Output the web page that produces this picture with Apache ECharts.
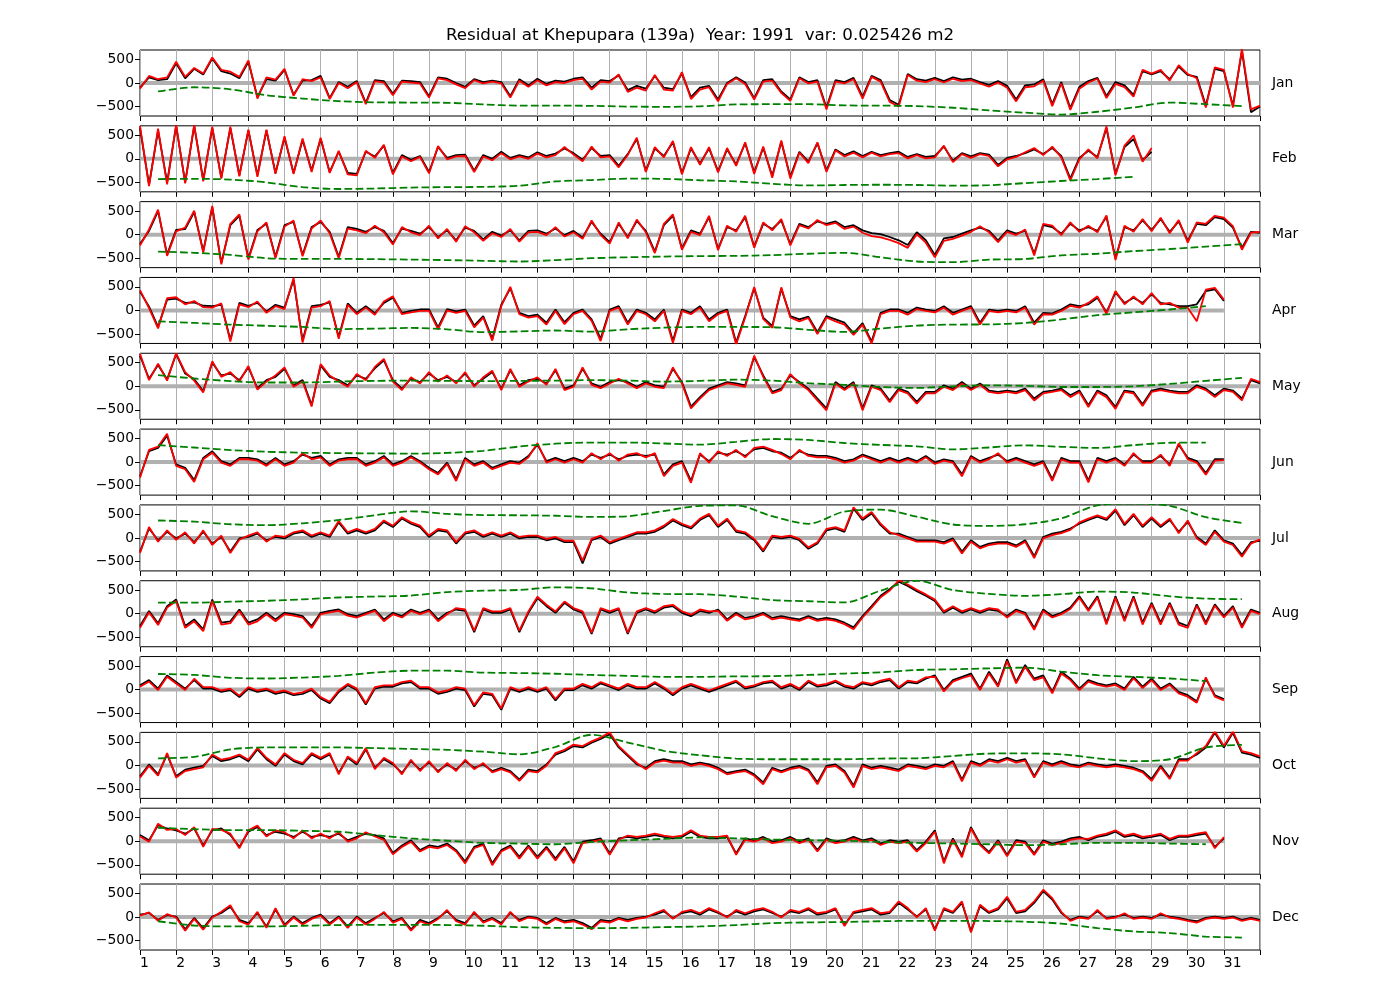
<!DOCTYPE html>
<html><head><meta charset="utf-8">
<script src="https://cdn.jsdelivr.net/npm/echarts@6/dist/echarts.min.js"></script>
<style>html,body{margin:0;padding:0;background:#fff}#c{width:1400px;height:1000px}</style>
</head><body><div id="c"></div>
<script>
const TITLE = 'Residual at Khepupara (139a)  Year: 1991  var: 0.025426 m2';
const MONTHS = ['Jan','Feb','Mar','Apr','May','Jun','Jul','Aug','Sep','Oct','Nov','Dec'];
const DAYS_IN_MONTH = [31,28,31,30,31,30,31,31,30,31,30,31];
const Y_TICKS = [-500, 0, 500];

// black = observed residual, red = model residual (6-hourly), green = daily smoothed (noon)
const JAN_K = [-100,120,60,80, 420,100,300,180, 520,250,200,100, 450,-300,80,50, 280,-250,50,60, 150,-320,20,-80, 40,-420,60,40, -230,50,40,20, -280,120,90,0, -80,80,20,50, 20,-280,80,-50, 90,-20,50,30, 90,120,-100,60, 40,160,-150,-60, -120,150,-100,-130, 200,-300,-100,-60, -350,0,120,10, -320,60,80,-180, -350,120,20,60, -520,60,20,110, -290,150,60,-360, -460,190,80,50, 110,40,120,70, 90,20,-40,40, -60,-350,-50,-30, 80,-450,20,-530, -80,40,110,-280, 20,-50,-250,250, 180,250,80,350, 170,130,-480,300, 250,-480,680,-620, -500];
const JAN_R = [-120,150,80,120, 450,130,320,200, 540,280,240,130, 480,-330,120,70, 300,-270,80,40, 120,-340,0,-110, 20,-450,40,10, -260,30,10,-10, -310,100,60,-30, -110,60,-10,30, -10,-310,50,-80, 60,-50,20,0, 60,90,-140,30, 10,180,-190,-100, -160,170,-140,-160, 230,-340,-140,-90, -390,-20,100,-20, -350,30,50,-210, -380,100,-10,30, -560,30,-10,80, -330,130,30,-400, -500,170,50,20, 80,10,90,40, 60,-10,-80,10, -100,-390,-90,-70, 50,-490,-10,-570, -120,10,90,-320, -20,-90,-290,280, 200,280,50,380, 190,100,-520,330, 280,-520,720,-560, -480];
const JAN_G = [-180,-90,-135,-260,-330,-385,-410,-415,-420,-455,-480,-480,-485,-500,-505,-495,-455,-450,-450,-475,-480,-490,-525,-580,-630,-670,-610,-520,-415,-450,-490];

const FEB_K = [650,-550,600,-500, 700,-500,700,-450, 650,-400,650,-350, 600,-350,600,-300, 450,-300,400,-250, 420,-280,150,-300, -320,150,50,280, -300,80,-20,60, -280,250,20,80, 90,-250,80,0, 150,20,80,30, 140,60,110,220, 120,-20,230,60, 80,-150,100,420, -250,220,60,350, -300,220,-100,220, -260,200,-120,330, -280,230,-360,360, -380,150,-60,330, -250,200,80,160, 60,150,80,120, 150,40,100,40, 60,260,-40,120, 50,120,90,-130, 20,60,120,200, 100,230,60,-420, 20,170,40,650, -320,250,420,-30, 150];
const FEB_R = [700,-580,640,-540, 720,-520,720,-480, 680,-420,680,-370, 620,-380,620,-320, 480,-320,430,-280, 450,-300,170,-330, -350,170,20,300, -330,50,-50,40, -310,270,-10,50, 60,-280,50,-30, 120,-10,50,0, 110,30,80,250, 90,-50,260,30, 50,-180,80,450, -280,250,30,380, -330,250,-130,250, -290,230,-150,350, -320,260,-400,390, -420,130,-90,350, -280,180,50,130, 30,130,50,100, 120,10,80,10, 30,280,-70,100, 20,100,60,-160, -10,40,140,230, 80,260,30,-460, -10,200,10,690, -350,280,500,-60, 230];
const FEB_G = [-430,-425,-440,-500,-600,-640,-630,-610,-600,-595,-570,-480,-450,-420,-425,-455,-480,-530,-565,-555,-550,-555,-570,-560,-515,-470,-430,-380];

const MAR_K = [-200,80,500,-420, 100,120,480,-350, 580,-600,200,400, -500,100,230,-470, 200,270,-430,160, 270,60,-470,160, 120,60,160,80, -180,130,80,20, 160,-50,90,-120, 150,80,-100,60, -20,90,-120,80, 90,20,130,-10, 80,-60,270,20, -160,230,-50,290, 80,-360,200,400, -290,90,20,370, -300,160,90,370, -250,230,120,300, -200,230,160,280, 230,280,160,200, 90,30,10,-50, -120,-220,50,-120, -430,-80,-50,20, 90,150,80,-120, 90,20,80,-400, 200,160,20,230, 90,160,80,380, -500,160,90,300, 100,330,60,280, -130,230,200,370, 330,150,-280,60, 40];
const MAR_R = [-230,110,530,-450, 70,150,510,-380, 610,-630,230,430, -530,70,260,-500, 170,300,-460,130, 300,30,-500,130, 90,30,190,50, -210,160,50,-10, 190,-80,120,-150, 180,50,-130,30, -50,120,-150,50, 60,-10,160,-40, 50,-90,300,-10, -190,260,-80,320, 50,-390,230,430, -320,60,-10,400, -330,190,60,400, -280,260,90,330, -230,200,130,310, 200,250,120,170, 40,-30,-60,-110, -180,-280,10,-170, -480,-130,-90,-20, 60,180,50,-160, 60,-10,110,-440, 230,190,-10,260, 60,190,50,410, -540,190,60,330, 70,360,30,310, -170,260,230,400, 360,180,-320,40, 60];
const MAR_G = [-360,-385,-430,-500,-515,-515,-520,-530,-540,-555,-570,-540,-500,-480,-465,-455,-450,-435,-405,-385,-480,-570,-585,-530,-515,-440,-405,-350,-305,-255,-200];

const APR_K = [400,80,-350,230, 250,160,170,100, 90,120,-620,160, 100,160,-20,120, 60,650,-640,90, 120,170,-560,150, -50,90,-60,160, 270,-50,-10,20, 20,-360,30,-20, 20,-320,-120,-600, 120,470,-50,-120, -90,-260,20,-250, -50,20,-190,-600, 20,90,-260,20, -50,-190,20,-650, 20,-50,90,-190, -50,20,-680,-120, 470,-150,-330,460, -120,-190,-130,-460, -120,-190,-260,-480, -270,-660,-50,20, 20,-50,60,20, -10,90,-50,20, 90,-260,20,-10, 20,-10,90,-260, -50,-60,20,130, 90,130,270,-40, 380,160,270,160, 340,160,130,90, 90,130,410,450, 200];
const APR_R = [430,50,-380,260, 280,130,200,70, 60,150,-660,130, 70,190,-50,90, 30,690,-680,60, 90,200,-600,120, -80,60,-90,190, 300,-80,-40,-10, -10,-400,0,-50, -10,-360,-150,-640, 90,500,-80,-150, -120,-300,-10,-290, -80,-10,-220,-650, -10,60,-300,-10, -80,-230,-10,-690, -10,-80,60,-230, -80,-10,-720,-150, 500,-180,-370,490, -150,-230,-160,-500, -150,-230,-300,-520, -300,-700,-80,-10, -10,-90,30,-10, -40,60,-90,-10, 60,-300,-10,-40, -10,-40,60,-300, -80,-90,-10,100, 60,160,300,-70, 410,130,300,130, 370,130,160,60, 60,-230,440,480, 230];
const APR_G = [-230,-265,-300,-325,-350,-395,-385,-370,-400,-460,-445,-425,-450,-400,-365,-350,-350,-355,-410,-455,-385,-320,-300,-295,-265,-190,-100,-40,20,90];

const MAY_K = [650,160,450,150, 680,270,150,-100, 500,230,270,130, 400,-40,130,200, 370,20,130,-400, 440,200,130,20, 230,160,380,550, 130,-50,160,90, 270,130,200,90, 270,20,160,300, -50,340,20,130, 160,60,340,-50, 20,370,60,-10, 90,130,90,-10, 90,20,-10,370, 90,-430,-230,-50, 20,90,60,20, 620,230,-120,-50, 230,90,-50,-260, -470,90,-50,90, -470,20,-50,-300, -50,-120,-330,-120, -120,20,-50,90, -50,60,-90,-120, -90,-120,-50,-260, -120,-90,-50,-190, -90,-400,-90,-190, -440,-90,-120,-380, -90,-50,-90,-120, -120,20,-50,-190, -50,-90,-260,130, 60];
const MAY_R = [690,130,480,120, 700,300,120,-130, 530,200,300,100, 430,-70,100,230, 400,-10,100,-430, 470,230,100,-10, 260,130,410,580, 100,-80,190,60, 300,100,230,60, 300,-10,190,330, -80,370,-10,100, 190,30,370,-80, -10,400,30,-40, 60,160,60,-40, 60,-10,-40,400, 60,-470,-260,-80, -10,60,30,-10, 650,200,-150,-80, 260,60,-80,-300, -510,60,-80,60, -510,-10,-80,-340, -80,-150,-370,-150, -150,-10,-80,60, -80,30,-120,-150, -120,-150,-80,-300, -150,-120,-80,-230, -120,-440,-120,-230, -480,-120,-150,-420, -120,-80,-120,-150, -150,-10,-80,-230, -80,-120,-300,160, 90];
const MAY_G = [235,165,110,80,80,100,115,120,115,110,115,120,130,120,100,115,140,120,65,30,-15,-35,0,20,10,-15,-15,0,50,115,180];

const JUN_K = [-300,230,300,560, -50,-120,-380,90, 230,20,-50,90, 90,60,-50,90, -50,20,160,90, 130,-50,60,90, 90,-50,20,130, -50,20,130,20, -120,-230,-10,-360, 90,-50,20,-120, -50,20,-10,130, 370,20,90,20, 90,20,160,90, 160,60,130,160, 130,160,-260,-50, 20,-400,160,20, 200,160,230,130, 270,300,230,200, 90,230,160,130, 130,90,20,60, 160,90,20,90, 20,90,20,130, -10,60,20,-260, 130,20,90,160, 20,90,20,-50, 20,-360,90,20, 20,-390,90,20, 90,-50,160,20, 20,130,-50,370, 90,20,-230,60, 60];
const JUN_R = [-330,260,330,600, -80,-150,-420,60, 200,-10,-80,60, 60,30,-80,60, -80,-10,190,60, 100,-80,30,60, 60,-80,-10,100, -80,-10,100,-10, -150,-260,-40,-400, 60,-80,-10,-150, -80,-10,-40,100, 400,-10,60,-10, 60,-10,190,60, 190,30,160,190, 100,190,-300,-80, -10,-440,190,-10, 230,130,260,100, 300,330,260,170, 60,260,130,100, 100,60,-10,30, 130,60,-10,60, -10,60,-10,100, -40,30,-10,-300, 100,-10,60,190, -10,60,-10,-80, -10,-400,60,-10, -10,-430,60,-10, 60,-80,190,-10, -10,160,-80,400, 60,-10,-270,30, 40];
const JUN_G = [360,310,255,220,200,190,185,180,195,240,330,390,415,415,395,370,430,490,470,405,365,335,270,310,355,325,300,360,410,415];

const JUL_K = [-290,200,-50,130, -10,90,-90,130, -120,20,-290,-10, 20,90,-50,20, -10,90,130,20, 90,20,330,90, 160,90,160,340, 230,410,300,230, 20,160,130,-120, 90,130,20,90, 20,90,-10,20, 20,-50,-10,-90, -90,-540,-50,20, -120,-50,20,90, 90,130,230,370, 270,200,380,480, 230,380,130,90, -50,-290,20,-10, 20,-50,-230,-120, 160,200,130,620, 380,520,270,90, 90,20,-50,-50, -50,-90,-10,-290, -50,-190,-120,-90, -90,-160,-50,-390, 20,90,130,200, 300,380,450,380, 580,270,480,230, 410,230,380,130, 340,20,-120,160, -50,-120,-360,-90, -60];
const JUL_R = [-320,230,-80,160, -40,120,-120,160, -150,50,-320,-40, 50,120,-80,50, 20,120,160,50, 120,50,360,120, 190,120,190,370, 260,440,330,260, 50,190,160,-90, 120,160,50,120, 50,120,20,50, 50,-20,20,-60, -60,-480,-20,50, -90,-20,50,120, 120,160,260,400, 300,230,410,510, 260,410,160,120, -20,-260,50,20, 50,-20,-200,-90, 190,230,160,650, 410,550,300,120, 60,-10,-80,-80, -80,-120,-40,-330, -80,-220,-150,-120, -120,-190,-80,-430, -10,60,100,170, 330,410,480,410, 610,300,510,260, 440,260,410,100, 370,-10,-150,130, -80,-150,-400,-120, -30];
const JUL_G = [370,345,290,270,310,380,480,565,510,485,480,470,445,460,570,680,690,460,300,560,600,450,285,255,290,415,690,730,680,440,320];

const AUG_K = [-260,60,-200,160, 300,-260,-120,-330, 300,-190,-160,90, -190,-120,20,-120, 20,-10,-50,-260, 20,60,90,-10, -50,20,90,-120, 20,-50,90,20, 90,-120,20,90, 60,-390,90,20, 20,90,-390,20, 330,160,20,230, 90,20,-430,90, 20,90,-430,20, 90,20,130,160, 20,-50,60,20, 90,-120,20,-90, -50,20,-90,-50, -90,-120,-50,-120, -90,-120,-190,-290, -50,160,380,520, 680,590,480,380, 270,20,130,20, 90,20,90,60, -50,90,20,-300, 90,-50,20,130, 370,90,370,-190, 370,-120,370,-190, 230,-190,230,-190, -260,200,-190,200, -50,160,-260,90, 20];
const AUG_R = [-300,30,-240,130, 270,-300,-160,-370, 270,-230,-200,60, -230,-160,-10,-160, -10,-40,-80,-300, -10,30,60,-40, -80,-10,60,-160, -10,-80,60,-10, 60,-160,-10,120, 90,-360,120,50, 50,120,-360,50, 360,190,50,260, 120,50,-400,120, 50,120,-400,50, 120,50,160,190, 50,-20,90,50, 60,-150,-10,-120, -80,-10,-120,-80, -120,-150,-80,-150, -120,-150,-220,-330, -80,130,350,490, 710,620,510,410, 300,50,160,50, 120,50,120,90, -80,60,-10,-340, 60,-80,-10,100, 340,60,340,-230, 340,-160,340,-230, 200,-230,200,-230, -300,170,-230,170, -80,130,-300,60, -10];
const AUG_G = [235,235,255,275,305,345,365,385,460,490,505,560,540,450,420,415,365,290,265,240,490,700,505,420,380,415,470,450,370,320,310];

const SEP_K = [90,200,20,300, 160,20,200,20, 20,-50,-10,-160, 20,-50,-10,-90, -50,-120,-90,-10, -190,-290,-50,90, -10,-320,20,60, 60,130,160,20, 20,-90,-50,20, -10,-360,-90,-120, -430,20,-50,20, -50,20,-230,-10, -10,90,20,130, 60,-10,90,20, 20,130,20,-120, 20,90,20,-50, 20,90,160,20, 60,130,160,20, 90,-10,160,60, 90,160,60,20, 130,90,160,200, 20,160,130,230, 300,-10,200,270, 340,20,380,90, 640,160,520,230, 300,-50,380,230, 20,200,130,90, 130,20,270,60, 230,20,130,-50, -120,-250,230,-120, -200];
const SEP_R = [60,170,-10,270, 130,-10,230,50, 50,-20,20,-130, 50,-20,20,-60, -20,-90,-60,20, -160,-260,-20,120, 20,-290,50,90, 90,160,190,50, 50,-60,-20,50, 20,-330,-60,-90, -400,50,-20,50, -20,50,-200,20, 20,120,50,160, 90,20,120,50, 50,160,50,-90, 50,120,50,-20, 50,120,190,50, 90,160,190,50, 120,20,190,90, 120,190,90,50, 160,120,190,230, 50,190,160,260, 270,-40,170,240, 300,-10,340,60, 600,130,480,200, 260,-80,340,200, -10,170,100,60, 100,-10,240,30, 200,-10,100,-80, -150,-280,260,-150, -230];
const SEP_G = [330,310,250,235,255,290,360,400,400,360,350,335,310,290,270,270,280,285,310,340,365,415,430,450,465,380,305,270,235,180];

const OCT_K = [-230,20,-190,230, -230,-90,-50,-10, 200,90,130,200, 90,340,130,-10, 230,90,20,230, 130,230,-160,160, 20,340,-50,130, 20,-160,90,-90, 60,-120,20,-90, 90,-50,20,-120, -50,-120,-300,-90, -120,20,230,300, 410,380,480,560, 660,380,200,20, -50,90,130,90, 90,20,60,20, -50,-160,-120,-90, -190,-360,-50,-120, -50,-10,-90,-360, -10,20,-120,-430, 20,-50,-10,-50, -90,20,-10,-50, 20,-10,90,-300, 90,20,130,90, 160,90,130,-230, 90,20,90,20, -10,60,20,-10, 20,-10,-50,-120, -290,-10,-260,130, 130,230,380,690, 380,690,270,230, 160];
const OCT_R = [-260,-10,-220,260, -260,-120,-80,-40, 230,120,160,230, 120,370,160,20, 260,120,50,260, 160,260,-190,190, 50,370,-80,160, 50,-190,120,-120, 90,-150,50,-120, 120,-80,50,-150, -80,-150,-330,-120, -150,-10,260,330, 440,410,510,590, 700,410,230,50, -80,60,100,60, 60,-10,30,-10, -80,-190,-150,-120, -220,-400,-80,-150, -80,-40,-120,-400, -40,-10,-150,-470, -10,-80,-40,-80, -120,-10,-40,-80, -10,-40,60,-340, 60,-10,100,60, 130,60,100,-260, 60,-10,60,-10, -40,30,-10,-40, -10,-40,-80,-150, -330,-40,-290,100, 100,260,410,720, 410,720,300,260, 190];
const OCT_G = [150,180,340,380,380,380,365,350,330,290,235,390,650,485,310,215,145,130,130,130,145,150,200,250,255,235,150,90,130,380,435];

const NOV_K = [130,20,340,270, 230,160,270,-90, 230,270,130,-120, 200,300,130,200, 160,90,200,90, 130,90,160,20, 90,160,130,60, -250,-90,20,-190, -90,-120,-50,-190, -430,-120,-50,-470, -190,-90,-330,-90, -330,-120,-370,-120, -430,-10,20,60, -260,60,90,60, 90,130,90,60, 90,200,90,60, 60,90,-260,60, 20,90,-10,20, 90,-10,60,-190, 60,-10,20,90, 20,60,-50,20, -10,20,-190,-10, 230,-430,60,-300, 300,-50,-230,20, -290,20,-10,-260, 20,-50,-10,60, 90,20,90,130, 200,90,130,60, 90,130,20,90, 90,130,160,-120, 60];
const NOV_R = [100,-10,370,240, 260,130,300,-120, 260,240,160,-150, 230,330,100,230, 190,60,230,60, 160,60,190,-10, 60,190,100,30, -280,-120,-10,-220, -120,-150,-80,-220, -470,-150,-80,-510, -220,-120,-370,-120, -370,-150,-410,-150, -470,-40,-10,30, -290,30,120,90, 120,160,120,90, 120,230,120,90, 90,120,-290,30, -10,60,-40,-10, 60,-40,30,-220, 30,-40,-10,60, -10,30,-80,-10, -40,-10,-220,-40, 200,-470,30,-340, 270,-80,-260,-10, -320,-10,-40,-290, -10,-80,-40,30, 60,50,120,160, 230,120,160,90, 120,160,50,120, 120,160,190,-150, 90];
const NOV_G = [285,255,235,235,220,200,130,60,10,-35,-50,-65,-15,20,50,80,60,35,20,10,-15,-35,-50,-65,-85,-65,-35,-35,-50,-65];

const DEC_K = [50,85,-60,40, 10,-260,-20,-240, 10,85,220,-60, -130,85,-200,160, -160,10,-130,-20, 50,-130,10,-200, 10,-130,-20,85, -90,-20,-260,-60, -130,-20,120,-60, -130,85,-90,-20, -130,85,-60,10, -20,-130,-20,-90, -60,-130,-230,-60, -90,-20,-60,-20, 10,50,120,-20, 85,120,50,160, 85,10,120,50, 120,160,85,10, 120,85,160,50, 85,160,-160,85, 120,160,50,85, 300,160,10,160, -260,160,85,300, -300,230,85,160, 400,85,120,300, 550,370,85,-60, 10,-20,120,-20, 10,50,-20,10, -20,50,10,-20, -60,-90,-20,10, -20,10,-60,-20, -60];
const DEC_R = [30,100,-80,60, -10,-290,-40,-270, -10,110,250,-90, -160,110,-230,190, -190,-10,-160,-40, 30,-160,-10,-230, -10,-160,-40,110, -120,-40,-290,-90, -160,-40,150,-90, -160,110,-120,-40, -160,110,-90,-10, -40,-160,-40,-120, -90,-160,-260,-90, -120,-40,-90,-40, -10,80,150,-40, 110,150,80,190, 110,-10,150,80, 150,190,110,-10, 150,110,190,80, 110,190,-190,110, 150,190,80,110, 330,190,-10,190, -290,190,110,330, -330,260,110,190, 430,110,150,330, 580,400,110,-80, -10,-40,150,-40, -10,80,-40,-10, -40,80,-10,-40, -80,-120,-40,-10, -40,-10,-80,-40, -80];
const DEC_G = [-90,-180,-200,-200,-185,-170,-165,-165,-170,-185,-215,-230,-235,-230,-215,-200,-170,-130,-115,-105,-90,-80,-80,-85,-100,-140,-235,-305,-340,-415,-435];

const BLACK = [JAN_K, FEB_K, MAR_K, APR_K, MAY_K, JUN_K, JUL_K, AUG_K, SEP_K, OCT_K, NOV_K, DEC_K];
const RED = [JAN_R, FEB_R, MAR_R, APR_R, MAY_R, JUN_R, JUL_R, AUG_R, SEP_R, OCT_R, NOV_R, DEC_R];
const GREEN = [JAN_G, FEB_G, MAR_G, APR_G, MAY_G, JUN_G, JUL_G, AUG_G, SEP_G, OCT_G, NOV_G, DEC_G];

const FONT = 'DejaVu Sans';
const chart = echarts.init(document.getElementById('c'), null, {renderer: 'canvas', width: 1400, height: 1000});
const grids = [], xAxes = [], yAxes = [], series = [], graphics = [];
const TOP0 = 50, STEP = 75.82, H = 66, LEFT = 140, W = 1120;
const fmtY = v => v < 0 ? '\u2212' + (-v) : String(v);

graphics.push({type: 'text', x: 700, y: 36, style: {text: TITLE, font: '16.7px "DejaVu Sans"', fill: '#000', align: 'center', verticalAlign: 'middle'}});

for (let i = 0; i < 12; i++) {
  const top = TOP0 + i * STEP;
  grids.push({left: LEFT, top: top, width: W, height: H, show: true, borderColor: '#000', borderWidth: 1, backgroundColor: 'transparent', containLabel: false});
  xAxes.push({
    gridIndex: i, type: 'value', position: 'bottom', min: 1, max: 32, interval: 1,
    axisLine: {show: false, onZero: false},
    axisTick: {show: true, inside: false, length: 5, lineStyle: {color: '#000', width: 1}},
    axisLabel: {show: i === 11, align: 'left', margin: 6, color: '#000', fontSize: 13.9, fontFamily: FONT,
      formatter: v => (v <= 31 ? String(v) : '')},
    splitLine: {show: true, lineStyle: {color: '#b0b0b0', width: 1}}
  });
  yAxes.push({
    gridIndex: i, type: 'value', position: 'left', min: -700, max: 700,
    axisLine: {show: false, onZero: false},
    axisTick: {show: true, inside: false, length: 5, customValues: Y_TICKS, lineStyle: {color: '#000', width: 1}},
    axisLabel: {show: true, customValues: Y_TICKS, margin: 6, color: '#000', fontSize: 13.9, fontFamily: FONT, formatter: fmtY},
    splitLine: {show: false}
  });
  const K = BLACK[i], R = RED[i], G = GREEN[i];
  const xEnd = 1 + (K.length - 1) * 0.25;
  series.push({type: 'line', xAxisIndex: i, yAxisIndex: i, data: [[1, 0], [xEnd, 0]], symbol: 'none', silent: true,
    lineStyle: {color: '#b0b0b0', width: 4}, z: 1});
  series.push({type: 'line', xAxisIndex: i, yAxisIndex: i, data: K.map((v, k) => [1 + k * 0.25, v]), symbol: 'none',
    lineStyle: {color: '#000000', width: 1.8}, z: 2, clip: true});
  series.push({type: 'line', xAxisIndex: i, yAxisIndex: i, data: R.map((v, k) => [1 + k * 0.25, v]), symbol: 'none',
    lineStyle: {color: '#ff0000', width: 1.8}, z: 3, clip: true});
  series.push({type: 'line', xAxisIndex: i, yAxisIndex: i, data: G.map((v, k) => [1.5 + k, v]), symbol: 'none', smooth: 0.3,
    lineStyle: {color: '#008000', width: 1.8, type: [7.7, 3.3]}, z: 4, clip: true});
  graphics.push({type: 'text', x: 1272, y: top + H / 2, style: {text: MONTHS[i], font: '13.9px "DejaVu Sans"', fill: '#000', align: 'left', verticalAlign: 'middle'}});
}

chart.setOption({
  animation: false,
  backgroundColor: '#fff',
  grid: grids, xAxis: xAxes, yAxis: yAxes, series: series, graphic: graphics
});
</script></body></html>
